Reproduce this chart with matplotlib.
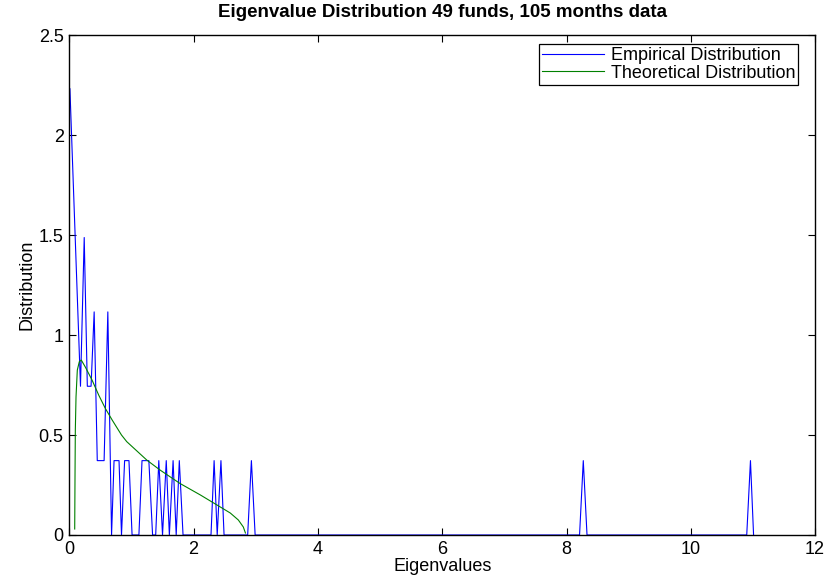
import matplotlib
matplotlib.use("Agg")
import matplotlib.pyplot as plt

plt.rcParams['font.family'] = ['Liberation Sans', 'DejaVu Sans']

# empirical histogram line (vertices)
emp_x = [0.01, 0.18, 0.24, 0.29, 0.35, 0.40, 0.45, 0.56, 0.62, 0.68, 0.72, 0.80,
         0.84, 0.89, 0.96, 1.01, 1.12, 1.17, 1.28, 1.34, 1.39, 1.44, 1.50, 1.56,
         1.61, 1.67, 1.72, 1.77, 1.83, 2.28, 2.33, 2.38, 2.44, 2.49, 2.87, 2.93,
         2.99, 8.21, 8.27, 8.33, 10.90, 10.96, 11.01]
emp_y = [2.232, 0.744, 1.488, 0.744, 0.744, 1.116, 0.372, 0.372, 1.116, 0.0, 0.372, 0.372,
         0.0, 0.372, 0.372, 0.0, 0.0, 0.372, 0.372, 0.0, 0.0, 0.372, 0.0, 0.372,
         0.0, 0.372, 0.0, 0.372, 0.0, 0.0, 0.372, 0.0, 0.372, 0.0, 0.0, 0.372,
         0.0, 0.0, 0.372, 0.0, 0.0, 0.372, 0.0]

# theoretical density curve
theo_x = [0.087, 0.092, 0.097, 0.108, 0.129, 0.161, 0.193, 0.258, 0.366, 0.473, 0.58,
          0.69, 0.84, 0.924, 1.246, 1.46, 1.78, 2.11, 2.43, 2.59, 2.72, 2.80, 2.834]
theo_y = [0.03, 0.30, 0.525, 0.69, 0.825, 0.867, 0.875, 0.84, 0.775, 0.70, 0.633,
          0.575, 0.50, 0.467, 0.375, 0.325, 0.258, 0.20, 0.14, 0.11, 0.075, 0.04, 0.01]

fig = plt.figure(figsize=(8.25, 5.77), dpi=100)
ax = fig.add_axes([0.084, 0.0728, 0.904, 0.8662])
ax.plot(emp_x, emp_y, color=(0, 0, 1), lw=0.8, label='Empirical Distribution')
ax.plot(theo_x, theo_y, color=(0, 0.5, 0), lw=0.8, label='Theoretical Distribution')
ax.set_xlim(0, 12)
ax.set_ylim(0, 2.5)
ax.set_xticks([0, 2, 4, 6, 8, 10, 12])
ax.set_yticks([0, 0.5, 1, 1.5, 2, 2.5])
ax.set_yticklabels(['0', '0.5', '1', '1.5', '2', '2.5'])
ax.tick_params(direction='in', top=True, right=True, length=5, labelsize=13, pad=4)
for s in ax.spines.values():
    s.set_linewidth(1.0)
ax.set_xlabel('Eigenvalues', fontsize=13, labelpad=0)
ax.set_ylabel('Distribution', fontsize=13, labelpad=2)
ax.set_title('Eigenvalue Distribution 49 funds, 105 months data', fontsize=13.5,
             fontweight='bold', pad=13)
leg = ax.legend(loc='upper right', bbox_to_anchor=(0.977, 0.982), fontsize=13,
                fancybox=False, framealpha=1, edgecolor='black', borderpad=0.15,
                handlelength=3.4, handletextpad=0.4, labelspacing=0.05,
                borderaxespad=0)
leg.get_frame().set_linewidth(0.9)

fig.savefig('out.png', dpi=100)
